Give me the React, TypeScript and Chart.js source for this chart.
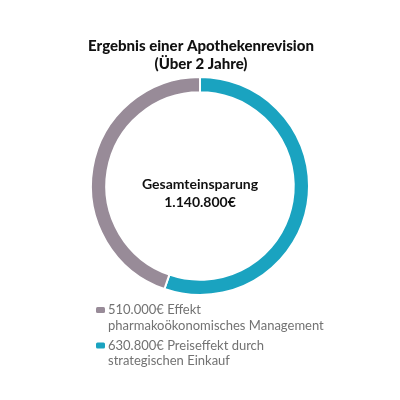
import { useEffect, useRef } from 'react';
import { Chart, registerables } from 'chart.js';
import type { Plugin } from 'chart.js';

Chart.register(...registerables);

// data
const labels = ['630.800€ Preiseffekt durch strategischen Einkauf', '510.000€ Effekt pharmakoökonomisches Management'];
const legendLines = [
  ['630.800€ Preiseffekt durch', 'strategischen Einkauf'],
  ['510.000€ Effekt', 'pharmakoökonomisches Management'],
];
const values = [630800, 510000];
const colors = ['#1aa3c0', '#988b98'];
const titleLines = ['Ergebnis einer Apothekenrevision', '(Über 2 Jahre)'];
const centerLines = ['Gesamteinsparung', '1.140.800€'];
// legend is listed gray first, then teal
const legendOrder = [1, 0];

const FONT = 'Lato, "Open Sans", sans-serif';

const textPlugin: Plugin<'doughnut'> = {
  id: 'texts',
  afterDraw(chart) {
    const ctx = chart.ctx;
    const w = chart.width;
    ctx.save();

    // title
    ctx.fillStyle = '#111111';
    ctx.font = `900 15px ${FONT}`;
    ctx.textAlign = 'center';
    ctx.textBaseline = 'middle';
    titleLines.forEach((t, i) => ctx.fillText(t, w / 2 + 1, 38 + i * 18));

    // center text
    const meta = chart.getDatasetMeta(0);
    const arc = meta.data[0] as any;
    const cx = arc.x;
    const cy = arc.y;
    ctx.font = `bold 14px ${FONT}`;
    centerLines.forEach((t, i) => ctx.fillText(t, cx, cy - 1.5 + i * 18));

    // legend
    ctx.textAlign = 'left';
    ctx.font = `13px ${FONT}`;
    let y = 302;
    legendOrder.forEach((idx) => {
      ctx.fillStyle = colors[idx];
      ctx.beginPath();
      ctx.roundRect(88, y - 3, 9, 6, 1.5);
      ctx.fill();
      ctx.fillStyle = '#727272';
      legendLines[idx].forEach((line, j) => ctx.fillText(line, 100, y + j * 15.5));
      y += 35.5;
    });

    ctx.restore();
  },
};

export default function App() {
  const canvasRef = useRef<HTMLCanvasElement>(null);

  useEffect(() => {
    if (!canvasRef.current) return;
    const chart = new Chart(canvasRef.current, {
      type: 'doughnut',
      data: {
        labels,
        datasets: [
          {
            data: values,
            backgroundColor: colors,
            borderColor: '#ffffff',
            borderWidth: 2,
            hoverOffset: 0,
          },
        ],
      },
      options: {
        responsive: true,
        maintainAspectRatio: false,
        animation: false,
        cutout: '86%',
        layout: { padding: { top: 68, bottom: 96, left: 0, right: 0 } },
        plugins: {
          legend: { display: false },
          title: { display: false },
          tooltip: { enabled: false },
        },
      },
      plugins: [textPlugin],
    });
    return () => chart.destroy();
  }, []);

  return (
    <div style={{ width: 384, height: 384, position: 'relative' }}>
      <canvas ref={canvasRef}></canvas>
    </div>
  );
}
